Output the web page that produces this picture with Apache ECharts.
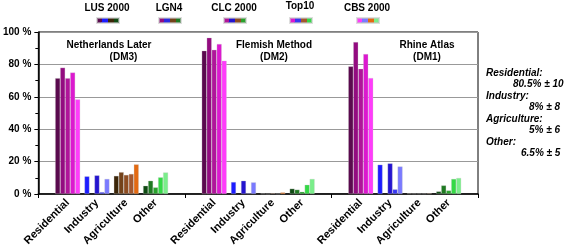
<!DOCTYPE html>
<html>
<head>
<meta charset="utf-8">
<script src="https://cdn.jsdelivr.net/npm/echarts@6/dist/echarts.min.js"></script>
<style>
	html, body { margin: 0; padding: 0; background: #fff; }
	#landUse { width: 568px; height: 250px; }
</style>
</head>
<body>
<div id="landUse"></div>
<script>

// panels (each one is a group of 4 land use classes)
var groupTitles = [['Netherlands Later', '(DM3)'], ['Flemish Method', '(DM2)'], ['Rhine Atlas', '(DM1)']];
var classes = ['Residential', 'Industry', 'Agriculture', 'Other'];
var seriesNames = ['LUS 2000', 'LGN4', 'CLC 2000', 'Top10', 'CBS 2000'];

// % per series, order: DM3 (Res, Ind, Agr, Oth), DM2 (...), DM1 (...)
var lus2000 = [71.5, 10.9, 11.2, 5.1, 88.5, 7.4, 0.3, 3.3, 78.8, 18.1, 0.4, 1.6];
var lgn4    = [78.0, 0, 13.5, 8.2, 96.5, 0, 0.1, 2.7, 93.8, 0, 0.3, 5.3];
var clc2000 = [71.5, 11.5, 11.8, 4.1, 89.0, 8.2, 0.5, 1.4, 77.3, 18.9, 0.3, 2.2];
var top10   = [75.0, 1.2, 12.4, 10.3, 92.6, 0.5, 0.2, 5.7, 86.4, 2.9, 0.3, 9.3];
var cbs2000 = [58.4, 9.3, 18.3, 13.3, 82.3, 7.2, 1.0, 9.3, 71.6, 17.0, 0.4, 9.9];
var allValues = [lus2000, lgn4, clc2000, top10, cbs2000];

// right hand note
var noteLines = [['Residential:', '80.5% \u00b1 10'], ['Industry:', '8% \u00b1 8'], ['Agriculture:', '5% \u00b1 6'], ['Other:', '6.5% \u00b1 5']];

var yTicks = [0, 20, 40, 60, 80, 100];

// colours: class x series
var classColors = [
	['#5a0a4e', '#930c80', '#b0159a', '#dc19cf', '#ff3cfb'],
	['#1c1cff', '#2a2ae0', '#2414cf', '#3838f2', '#7a7aff'],
	['#3c2609', '#73421a', '#8e4d22', '#a4582e', '#e36a12'],
	['#0f4a12', '#1f7a22', '#29a22c', '#34d946', '#7aee8a']
];

var legendX = [96, 158, 223, 289, 356];
var legendTextY = [8, 8, 8, 6, 8];

// 16 slots: blank, 4 classes, blank, 4 classes, blank, 4 classes, blank
var cats = [''];
groupTitles.forEach(function () {
	classes.forEach(function (c) { cats.push(c); });
	cats.push('');
});

var chart = echarts.init(document.getElementById('landUse'));

var series = [];
var legends = [];
var graphics = [];

seriesNames.forEach(function (name, s) {
	var data = [null];
	groupTitles.forEach(function (g, gi) {
		classes.forEach(function (c, ci) {
			var v = allValues[s][gi * 4 + ci];
			data.push({
				value: v === 0 ? null : v,
				itemStyle: { color: classColors[ci][s] }
			});
		});
		data.push(null);
	});

	var stops = [];
	classColors.forEach(function (cc, ci) {
		stops.push({ offset: ci / 4, color: cc[s] });
		stops.push({ offset: (ci + 1) / 4 - 0.001, color: cc[s] });
	});

	series.push({
		name: name,
		type: 'bar',
		barWidth: 5,
		barGap: '0%',
		itemStyle: {
			color: new echarts.graphic.LinearGradient(0, 0, 1, 0.4, stops),
			borderColor: 'rgba(200,200,200,0.6)',
			borderWidth: 0.5
		},
		data: data
	});

	legends.push({
		data: [name],
		left: legendX[s],
		top: 17,
		itemWidth: 22,
		itemHeight: 5,
		icon: 'rect',
		selectedMode: false,
		formatter: function () { return ''; },
		itemGap: 0,
		padding: 0
	});

	graphics.push({
		type: 'text',
		x: legendX[s] + 11,
		y: legendTextY[s],
		style: {
			text: name,
			textAlign: 'center',
			textVerticalAlign: 'middle',
			font: 'bold 10px "Liberation Sans", Arial, sans-serif',
			fill: '#000'
		}
	});
});

// panel titles
var titleX = [[109, 123.5], [274, 274], [427, 427]];
groupTitles.forEach(function (t, gi) {
	t.forEach(function (line, li) {
		graphics.push({
			type: 'text',
			x: titleX[gi][li],
			y: 45 + li * 12,
			style: {
				text: line,
				textAlign: 'center',
				textVerticalAlign: 'middle',
				font: 'bold 10px "Liberation Sans", Arial, sans-serif',
				fill: '#000'
			}
		});
	});
});

// note on the right
var noteValueX = [513, 529, 529, 521];
noteLines.forEach(function (n, i) {
	graphics.push({
		type: 'text',
		x: 486,
		y: 73 + i * 23,
		style: { text: n[0], textVerticalAlign: 'middle', font: 'italic bold 10px "Liberation Sans", Arial, sans-serif', fill: '#000' }
	});
	graphics.push({
		type: 'text',
		x: noteValueX[i],
		y: 84.5 + i * 23,
		style: { text: n[1], textVerticalAlign: 'middle', font: 'italic bold 10px "Liberation Sans", Arial, sans-serif', fill: '#000' }
	});
});

chart.setOption({
	animation: false,
	textStyle: { fontFamily: '"Liberation Sans", Arial, sans-serif' },
	legend: legends,
	graphic: graphics,
	grid: {
		left: 38,
		right: 90,
		top: 32,
		bottom: 56,
		show: true,
		borderColor: '#000',
		borderWidth: 1
	},
	xAxis: {
		type: 'category',
		data: cats,
		boundaryGap: false,
		axisLine: { lineStyle: { color: '#000', width: 1.5 } },
		axisTick: {
			show: true,
			length: 4,
			interval: function (i) { return i % 5 === 0; },
			lineStyle: { color: '#000' }
		},
		axisLabel: {
			interval: 0,
			rotate: 45,
			margin: 7,
			color: '#000',
			fontWeight: 'bold',
			fontSize: 11
		},
		splitLine: { show: false }
	},
	yAxis: {
		type: 'value',
		min: yTicks[0],
		max: yTicks[yTicks.length - 1],
		interval: 20,
		axisLine: { show: true, lineStyle: { color: '#000', width: 1.5 } },
		axisTick: { show: true, length: 4, lineStyle: { color: '#000' } },
		minorTick: { show: true, splitNumber: 2, length: 3, lineStyle: { color: '#000' } },
		axisLabel: {
			formatter: '{value} %',
			color: '#000',
			fontWeight: 'bold',
			fontSize: 10,
			margin: 7
		},
		splitLine: { lineStyle: { color: '#999', width: 1 } }
	},
	series: series
});

</script>
</body>
</html>
